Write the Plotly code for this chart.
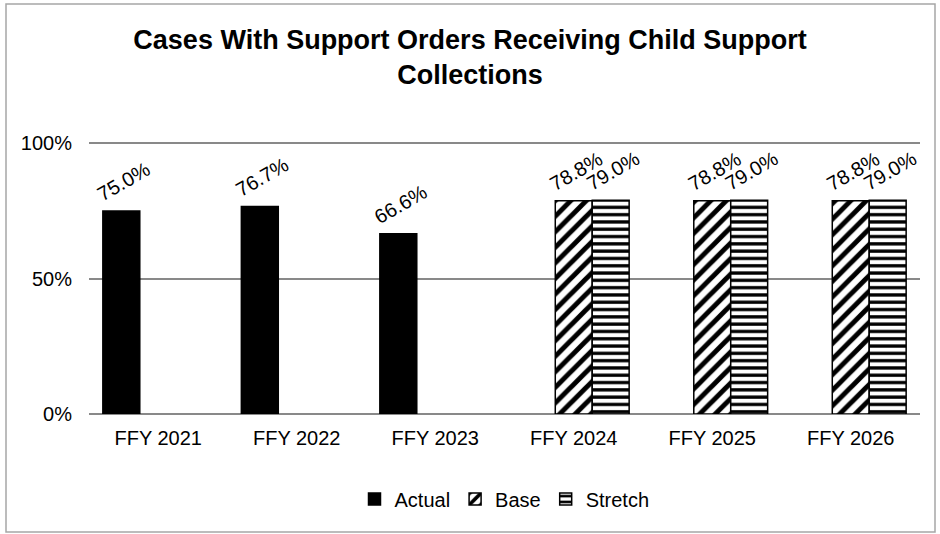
import plotly.graph_objects as go

categories = ["FFY 2021", "FFY 2022", "FFY 2023", "FFY 2024", "FFY 2025", "FFY 2026"]
actual = [0.750, 0.767, 0.666, None, None, None]
base = [None, None, None, 0.788, 0.788, 0.788]
stretch = [None, None, None, 0.790, 0.790, 0.790]
y_ticks = [0, 0.5, 1.0]
y_tick_labels = ["0%", "50%", "100%"]

FONT = "Liberation Sans, Arial, sans-serif"
LINE = dict(color="black", width=1.5)
LABEL_FONT = dict(family=FONT, size=20, color="black")

common = dict(texttemplate="\u00a0%{y:.1%}", textposition="outside", textangle=-30,
              textfont=LABEL_FONT, cliponaxis=False, constraintext="none")

fig = go.Figure()
fig.add_trace(go.Bar(
    name="Actual", x=categories, y=actual,
    marker=dict(color="black", line=LINE), **common,
))
fig.add_trace(go.Bar(
    name="Base", x=categories, y=base,
    marker=dict(color="white", line=LINE,
                pattern=dict(shape="/", fgcolor="black", bgcolor="white",
                             fgopacity=1, fillmode="replace",
                             size=11, solidity=0.45)),
    **common,
))
fig.add_trace(go.Bar(
    name="Stretch", x=categories, y=stretch,
    marker=dict(color="white", line=LINE,
                pattern=dict(shape="-", fgcolor="black", bgcolor="white",
                             fgopacity=1, fillmode="replace",
                             size=7.3, solidity=0.45)),
    **common,
))

fig.update_layout(
    width=940, height=534,
    margin=dict(l=89, r=20, t=138, b=120),
    paper_bgcolor="white", plot_bgcolor="white",
    barmode="group", bargap=0.2, bargroupgap=0,
    font=dict(family=FONT, size=20, color="black"),
    title=dict(
        text="<b>Cases With Support Orders Receiving Child Support<br>Collections</b>",
        x=0.5, xanchor="center", y=0.908, yanchor="middle", yref="container",
        font=dict(family=FONT, size=27, color="black"),
    ),
    legend=dict(
        orientation="h", x=0.5, xanchor="center", y=0.0655, yanchor="middle",
        yref="container", font=dict(family=FONT, size=20, color="black"),
        itemwidth=30, traceorder="normal",
    ),
    showlegend=True,
)
fig.update_xaxes(
    showgrid=False, showline=False, ticks="", tickfont=dict(size=20),
    ticklabelstandoff=10, fixedrange=True,
)
fig.update_yaxes(
    range=[0, 1.02], tickvals=y_ticks, ticktext=y_tick_labels,
    showgrid=True, gridcolor="#898989", gridwidth=1.5,
    zeroline=True, zerolinecolor="#898989", zerolinewidth=1.5,
    showline=False, ticks="", tickfont=dict(size=20),
    ticklabelstandoff=16, fixedrange=True,
)
fig.add_shape(
    type="rect", xref="paper", yref="paper",
    x0=(6 - 89) / 831, x1=(935 - 89) / 831,
    y0=(414 - 532) / 276, y1=(414 - 4) / 276,
    line=dict(color="#a6a6a6", width=1.5), fillcolor="rgba(0,0,0,0)",
    layer="below",
)

fig.write_html(
    "out.html",
    config={"displayModeBar": False},
    post_script="document.body.style.margin='0px';document.body.style.overflow='hidden';",
)
